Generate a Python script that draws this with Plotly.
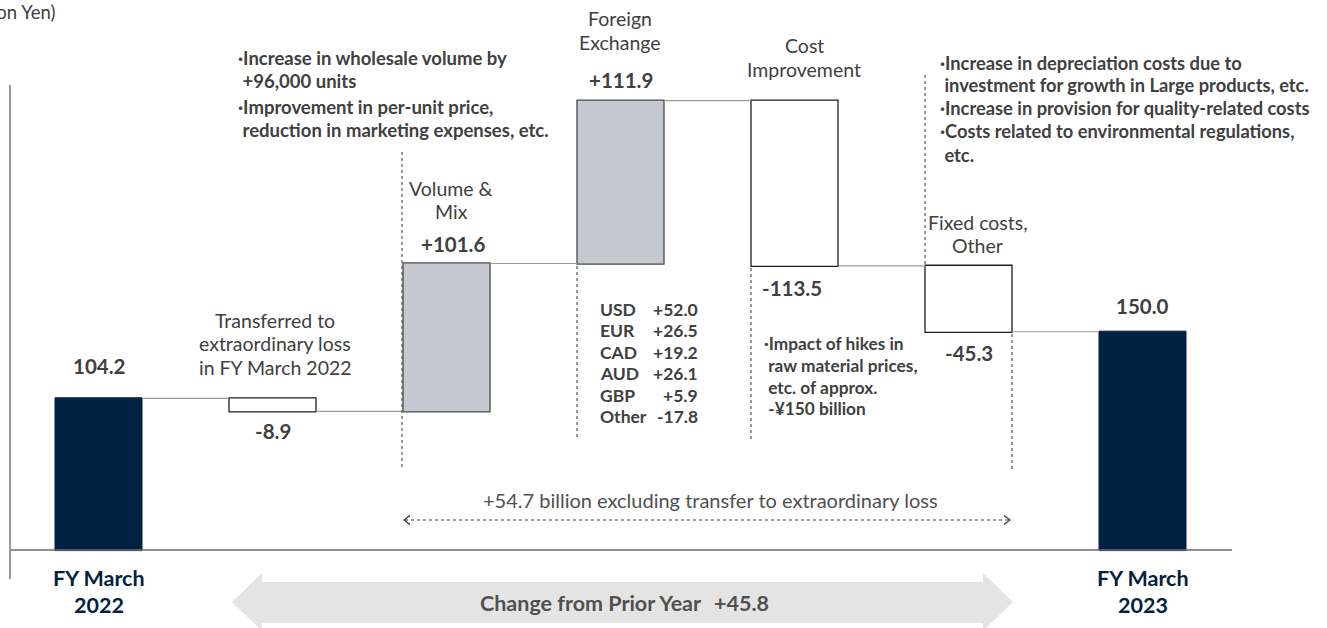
import plotly.graph_objects as go

# ---- data -------------------------------------------------------------
categories = [
    "FY March<br>2022",
    "Transferred to<br>extraordinary loss<br>in FY March 2022",
    "Volume &<br>Mix",
    "Foreign<br>Exchange",
    "Cost<br>Improvement",
    "Fixed costs,<br>Other",
    "FY March<br>2023",
]
measures = ["absolute", "relative", "relative", "relative", "relative", "relative", "total"]
values = [104.2, -8.9, 101.6, 111.9, -113.5, -45.3, 150.0]
value_labels = ["104.2", "-8.9", "+101.6", "+111.9", "-113.5", "-45.3", "150.0"]

fx_currencies = ["USD", "EUR", "CAD", "AUD", "GBP", "Other"]
fx_impacts = ["+52.0", "+26.5", "+19.2", "+26.1", "+5.9", "-17.8"]

change_total = "+45.8"
change_excl = "+54.7"

# ---- style ------------------------------------------------------------
FONT = "Lato"
NAVY = "#012241"
GREY_BAR = "#C5C7D1"
TXT = "#404040"

W_FIG, H_FIG = 1327, 628
L, R, T, B = 11, 95, 85, 49
PW, PH = W_FIG - L - R, H_FIG - T - B
ZERO_PX, PX_PER_UNIT, STEP_PX = 550, 1.455, 174


def px(p):
    """horizontal pixel -> paper coordinate"""
    return (p - L) / PW


def py(p):
    """vertical pixel -> paper coordinate"""
    return 1 - (p - T) / PH


xs = list(range(len(values)))

fig = go.Figure(
    go.Waterfall(
        x=xs,
        y=values,
        measure=measures,
        width=0.5,
        textinfo="none",
        hoverinfo="skip",
        totals=dict(marker=dict(color=NAVY, line=dict(color=NAVY, width=1))),
        increasing=dict(marker=dict(color=GREY_BAR, line=dict(color="#4a4a4a", width=1.3))),
        decreasing=dict(marker=dict(color="white", line=dict(color="#1e1e1e", width=1.3))),
        connector=dict(mode="between", line=dict(color="#9a9a9a", width=1.2)),
    )
)

# running level of each bar (start, end)
starts, ends = [], []
level = 0.0
for m, v in zip(measures, values):
    if m == "absolute":
        s, e = 0.0, v
    elif m == "total":
        s, e = 0.0, level
    else:
        s, e = level, level + v
    starts.append(s)
    ends.append(e)
    level = e

annotations = []
shapes = []


def text_lines(lines, x0, ys, size, color=TXT, anchor="left", bold=False):
    """place each line of a text block on its own baseline"""
    for t, yy in zip(lines, ys):
        annotations.append(dict(
            x=px(x0), y=py(yy), xref="paper", yref="paper",
            text=f"<b>{t}</b>" if bold else t,
            showarrow=False, xanchor=anchor, yanchor="middle",
            font=dict(family=FONT, size=size, color=color),
        ))


# value labels above rising bars, below falling ones
label_shift = [32, -20, 20, 21, -22, -21, 26]
label_xshift = [0, 0, 6, 0, -3, 0, 0]
for i, (s, e, lab) in enumerate(zip(starts, ends, value_labels)):
    y = max(s, e) if label_shift[i] > 0 else min(s, e)
    annotations.append(dict(
        x=i, y=y, xref="x", yref="y", text=f"<b>{lab}</b>", showarrow=False,
        yshift=label_shift[i], xshift=label_xshift[i], yanchor="middle",
        font=dict(family=FONT, size=20.5, color=TXT),
    ))

# category captions
cat_pos = {1: (275, 320), 2: (451, 188), 3: (620, 19), 4: (804, 46), 5: (978, 222)}
for i, (cx, cy) in cat_pos.items():
    parts = categories[i].split("<br>")
    text_lines(parts, cx, [cy + 23.5 * k for k in range(len(parts))], 19.5,
               anchor="center")

# year labels beneath the totals
for i, cx in ((0, 99), (6, 1143)):
    text_lines(categories[i].split("<br>"), cx, [578, 604.5], 21.5, color=NAVY,
               anchor="center", bold=True)

# unit label
text_lines(["(Billion Yen)"], 57, [12], 18.5, anchor="right")

IND = "\u00a0"
text_lines(["·Increase in wholesale volume by", IND + "+96,000 units",
            "·Improvement in per-unit price,", IND + "reduction in marketing expenses, etc."],
           236, [58, 81, 107, 130], 18.5, bold=True)
text_lines(["·Impact of hikes in", IND + "raw material prices,",
            IND + "etc. of approx.", IND + "-¥150 billion"],
           762, [343, 365, 387, 408.5], 17.3, bold=True)
text_lines(["·Increase in depreciation costs due to",
            IND + "investment for growth in Large products, etc.",
            "·Increase in provision for quality-related costs",
            "·Costs related to environmental regulations,", IND + "etc."],
           938, [63, 85, 108, 131, 155], 18.3, bold=True)

# currency breakdown of the FX effect
fx_y = [309 + 21.5 * k for k in range(len(fx_currencies))]
text_lines(fx_currencies, 598, fx_y, 17.5, bold=True)
text_lines(fx_impacts, 700, fx_y, 17.5, anchor="right", bold=True)

# bracket text
text_lines([f"{change_excl} billion excluding transfer to extraordinary loss"],
           710, [500], 20, color="#505050", anchor="center")

# big double arrow with the year-on-year change
arrow_pts = [(232, 602), (262, 573), (262, 582), (983, 582), (983, 573), (1013, 602),
             (983, 631), (983, 623), (262, 623), (262, 631)]
path = "M " + " L ".join(f"{px(a):.5f},{py(b):.5f}" for a, b in arrow_pts) + " Z"
shapes.append(dict(type="path", path=path, xref="paper", yref="paper",
                   fillcolor="#E4E4E4", line=dict(width=0), layer="below"))
text_lines(["Change from Prior Year"], 478, [603], 21.5, color="#505050", bold=True)
text_lines([change_total], 771, [603], 21.5, color="#505050", anchor="right", bold=True)

# baseline
shapes.append(dict(type="line", xref="paper", yref="y", x0=0, x1=1, y0=0, y1=0,
                   line=dict(color="#6a6a6a", width=1.5)))

# dotted guide lines
for x0, y0, y1 in [(402, 152, 470), (577, 266, 437), (751, 268, 440),
                   (925, 75, 266), (1012, 334, 470)]:
    shapes.append(dict(type="line", xref="paper", yref="paper",
                       x0=px(x0), x1=px(x0), y0=py(y0), y1=py(y1),
                       line=dict(color="#555555", width=1.2, dash="dot")))

# dotted bracket arrow
shapes.append(dict(type="line", xref="paper", yref="paper",
                   x0=px(405), x1=px(1009), y0=py(520), y1=py(520),
                   line=dict(color="#444444", width=1.2, dash="dot")))
for tip, back in ((404, 410), (1010, 1004)):
    p = f"M {px(back):.5f},{py(515.5):.5f} L {px(tip):.5f},{py(520):.5f} L {px(back):.5f},{py(524.5):.5f}"
    shapes.append(dict(type="path", path=p, xref="paper", yref="paper",
                       line=dict(color="#333333", width=1.2)))

x0_range = -(98.5 - L) / STEP_PX
fig.update_layout(
    width=W_FIG, height=H_FIG, autosize=False,
    margin=dict(l=L, r=R, t=T, b=B, pad=0),
    plot_bgcolor="white", paper_bgcolor="white",
    showlegend=False,
    xaxis=dict(range=[x0_range, x0_range + PW / STEP_PX], visible=False, fixedrange=True),
    yaxis=dict(range=[-(H_FIG - B - ZERO_PX) / PX_PER_UNIT, (ZERO_PX - T) / PX_PER_UNIT],
               showline=True, linecolor="#9a9a9a", linewidth=1.5, mirror=False,
               showticklabels=False, ticks="", showgrid=False, zeroline=False,
               fixedrange=True),
    annotations=annotations,
    shapes=shapes,
    font=dict(family=FONT, color=TXT),
)

fig.write_html("out.html")
